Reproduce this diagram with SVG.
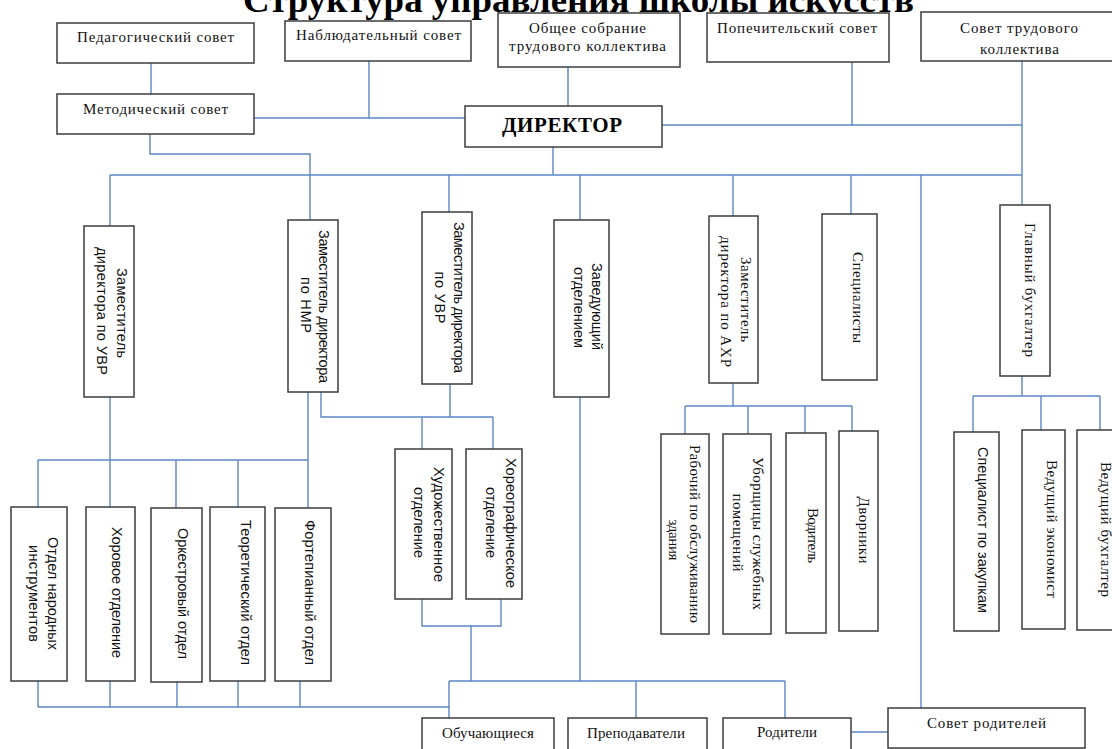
<svg xmlns="http://www.w3.org/2000/svg" width="1112" height="749" viewBox="0 0 1112 749">
<style>
.box{fill:#fff;stroke:#3c3c3c;stroke-width:1.5}
.ln{fill:none;stroke:#5b87c5;stroke-width:1.4}
.s{font-family:"Liberation Serif","Times New Roman",serif;font-size:15px;fill:#111;text-anchor:middle}
.a{font-family:"Liberation Sans",Arial,sans-serif;font-size:14.5px;fill:#111;text-anchor:middle}
.t{font-family:"Liberation Serif","Times New Roman",serif;font-size:36px;font-weight:bold;fill:#000;text-anchor:middle}
.d{font-family:"Liberation Serif","Times New Roman",serif;font-size:21px;font-weight:bold;fill:#000;text-anchor:middle}
</style>
<rect width="1112" height="749" fill="#fff"/>
<text class="t" x="578.5" y="12" textLength="671" lengthAdjust="spacingAndGlyphs">Структура управления школы искусств</text>

<g id="connectors">
<path class="ln" d="M151,63V94"/>
<path class="ln" d="M369,61V118"/>
<path class="ln" d="M254,118H465"/>
<path class="ln" d="M568,67V106"/>
<path class="ln" d="M662,125H1022"/>
<path class="ln" d="M852,62V125"/>
<path class="ln" d="M1022,61V205"/>
<path class="ln" d="M150,134V154H310V220"/>
<path class="ln" d="M553,147V175"/>
<path class="ln" d="M110,175H1022"/>
<path class="ln" d="M110,175V226"/>
<path class="ln" d="M449,175V212"/>
<path class="ln" d="M580,175V220"/>
<path class="ln" d="M733,175V216"/>
<path class="ln" d="M851,175V214"/>
<path class="ln" d="M921,175V708"/>
<path class="ln" d="M110,397V507"/>
<path class="ln" d="M308,392V508"/>
<path class="ln" d="M38,460H308"/>
<path class="ln" d="M38,460V507"/>
<path class="ln" d="M176,460V508"/>
<path class="ln" d="M238,460V507"/>
<path class="ln" d="M321,392V417H493"/>
<path class="ln" d="M450,384V417"/>
<path class="ln" d="M422,417V449"/>
<path class="ln" d="M493,417V449"/>
<path class="ln" d="M422,599V626H501V599"/>
<path class="ln" d="M471,626V681"/>
<path class="ln" d="M38,681V707"/>
<path class="ln" d="M110,681V707"/>
<path class="ln" d="M177,682V707"/>
<path class="ln" d="M238,681V707"/>
<path class="ln" d="M300,681V707"/>
<path class="ln" d="M38,707H449"/>
<path class="ln" d="M580,397V681"/>
<path class="ln" d="M449,681H785"/>
<path class="ln" d="M449,681V718"/>
<path class="ln" d="M636,681V718"/>
<path class="ln" d="M785,681V718"/>
<path class="ln" d="M851,732H888"/>
<path class="ln" d="M733,383V406"/>
<path class="ln" d="M685,406H852"/>
<path class="ln" d="M685,406V434"/>
<path class="ln" d="M748,406V434"/>
<path class="ln" d="M805,406V433"/>
<path class="ln" d="M852,406V431"/>
<path class="ln" d="M1022,376V396"/>
<path class="ln" d="M973,396H1100"/>
<path class="ln" d="M973,396V432"/>
<path class="ln" d="M1041,396V430"/>
<path class="ln" d="M1100,396V430"/>
</g>

<g id="ped"><rect class="box" x="57" y="23" width="197" height="40"/><text class="s" x="155.5" y="42" textLength="157">Педагогический совет</text></g>
<g id="nabl"><rect class="box" x="285" y="21" width="186" height="40"/><text class="s" x="378.5" y="40" textLength="165">Наблюдательный совет</text></g>
<g id="obsh"><rect class="box" x="498" y="13" width="182" height="54"/><text class="s" x="587.5" y="33" textLength="117">Общее собрание</text><text class="s" x="587.5" y="51" textLength="157">трудового коллектива</text></g>
<g id="popech"><rect class="box" x="707" y="13" width="182" height="49"/><text class="s" x="797" y="33" textLength="160">Попечительский совет</text></g>
<g id="sovtrud"><rect class="box" x="921" y="12" width="196" height="49"/><text class="s" x="1019" y="33" textLength="118">Совет трудового</text><text class="s" x="1019.5" y="54" textLength="79">коллектива</text></g>
<g id="metod"><rect class="box" x="57" y="94" width="197" height="40"/><text class="s" x="155.5" y="114" textLength="145">Методический совет</text></g>
<g id="director"><rect class="box" x="465" y="106" width="197" height="41"/><text class="d" x="562" y="132" textLength="120">ДИРЕКТОР</text></g>

<g id="zam_uvr1"><rect class="box" x="84" y="226" width="50" height="171"/>
<text class="a" transform="translate(116.5,313) rotate(90)" textLength="90">Заместитель</text>
<text class="a" transform="translate(96.5,311) rotate(90)" textLength="128">директора по УВР</text></g>
<g id="zam_nmr"><rect class="box" x="288" y="220" width="50" height="172"/>
<text class="a" transform="translate(319,306.5) rotate(90)" textLength="153">Заместитель директора</text>
<text class="a" transform="translate(301,305) rotate(90)" textLength="56">по НМР</text></g>
<g id="zam_uvr2"><rect class="box" x="422" y="212" width="50" height="172"/>
<text class="a" transform="translate(454,297.5) rotate(90)" textLength="151">Заместитель директора</text>
<text class="a" transform="translate(435,297.5) rotate(90)" textLength="52">по УВР</text></g>
<g id="zav"><rect class="box" x="554" y="220" width="55" height="177"/>
<text class="a" transform="translate(592,306.5) rotate(90)" textLength="87">Заведующий</text>
<text class="a" transform="translate(574,307.5) rotate(90)" textLength="81">отделением</text></g>
<g id="zam_ahr"><rect class="box" x="709" y="216" width="49" height="167"/>
<text class="s" transform="translate(741,299.5) rotate(90)" textLength="85">Заместитель</text>
<text class="s" transform="translate(721,301.5) rotate(90)" textLength="131">директора по АХР</text></g>
<g id="spec"><rect class="box" x="822" y="214" width="55" height="166"/>
<text class="s" transform="translate(853,297.5) rotate(90)" textLength="91">Специалисты</text></g>
<g id="glavbuh"><rect class="box" x="1000" y="205" width="50" height="171"/>
<text class="s" transform="translate(1025,290) rotate(90)" textLength="134">Главный бухгалтер</text></g>

<g id="narod"><rect class="box" x="11" y="507" width="56" height="174"/>
<text class="a" transform="translate(48,593.5) rotate(90)" textLength="113">Отдел народных</text>
<text class="a" transform="translate(29,593.5) rotate(90)" textLength="97">инструментов</text></g>
<g id="hor"><rect class="box" x="86" y="507" width="49" height="174"/>
<text class="a" transform="translate(112,592.5) rotate(90)" textLength="131">Хоровое отделение</text></g>
<g id="orkestr"><rect class="box" x="151" y="508" width="51" height="174"/>
<text class="a" transform="translate(178,593.5) rotate(90)" textLength="131">Оркестровый отдел</text></g>
<g id="teor"><rect class="box" x="210" y="507" width="55" height="174"/>
<text class="a" transform="translate(241,592.5) rotate(90)" textLength="145">Теоретический отдел</text></g>
<g id="fort"><rect class="box" x="275" y="508" width="56" height="173"/>
<text class="a" transform="translate(305,592.5) rotate(90)" textLength="145">Фортепианный отдел</text></g>
<g id="hud"><rect class="box" x="395" y="449" width="57" height="150"/>
<text class="a" transform="translate(434,524.5) rotate(90)" textLength="115">Художественное</text>
<text class="a" transform="translate(414,522.5) rotate(90)" textLength="71">отделение</text></g>
<g id="horeo"><rect class="box" x="466" y="449" width="56" height="150"/>
<text class="a" transform="translate(506,523) rotate(90)" textLength="130">Хореографическое</text>
<text class="a" transform="translate(486,522.5) rotate(90)" textLength="71">отделение</text></g>

<g id="rabochiy"><rect class="box" x="661" y="434" width="48" height="200"/>
<text class="s" transform="translate(690,534) rotate(90)" textLength="178">Рабочий по обслуживанию</text>
<text class="s" transform="translate(669,540) rotate(90)" textLength="41">здания</text></g>
<g id="uborsh"><rect class="box" x="723" y="434" width="48" height="200"/>
<text class="s" transform="translate(753,533.5) rotate(90)" textLength="153">Уборщицы служебных</text>
<text class="s" transform="translate(733,532.5) rotate(90)" textLength="78">помещений</text></g>
<g id="voditel"><rect class="box" x="786" y="433" width="40" height="200"/>
<text class="s" transform="translate(808,535.5) rotate(90)" textLength="55">Водитель</text></g>
<g id="dvorniki"><rect class="box" x="839" y="431" width="39" height="200"/>
<text class="s" transform="translate(859,530) rotate(90)" textLength="67">Дворники</text></g>
<g id="zakup"><rect class="box" x="954" y="432" width="45" height="199"/>
<text class="a" transform="translate(978,530) rotate(90)" textLength="166">Специалист по закупкам</text></g>
<g id="econom"><rect class="box" x="1022" y="430" width="43" height="199"/>
<text class="s" transform="translate(1047,529) rotate(90)" textLength="138">Ведущий экономист</text></g>
<g id="vedbuh"><rect class="box" x="1077" y="430" width="45" height="200"/>
<text class="s" transform="translate(1101,529.5) rotate(90)" textLength="135">Ведущий бухгалтер</text></g>

<g id="obuch"><rect class="box" x="422" y="718" width="132" height="40"/><text class="s" x="488" y="738" textLength="92">Обучающиеся</text></g>
<g id="prepod"><rect class="box" x="568" y="718" width="139" height="40"/><text class="s" x="636" y="738" textLength="98">Преподаватели</text></g>
<g id="roditeli"><rect class="box" x="723" y="718" width="128" height="40"/><text class="s" x="787" y="737" textLength="60">Родители</text></g>
<g id="sovrod"><rect class="box" x="888" y="708" width="197" height="40"/><text class="s" x="986.5" y="728" textLength="119">Совет родителей</text></g>
</svg>
